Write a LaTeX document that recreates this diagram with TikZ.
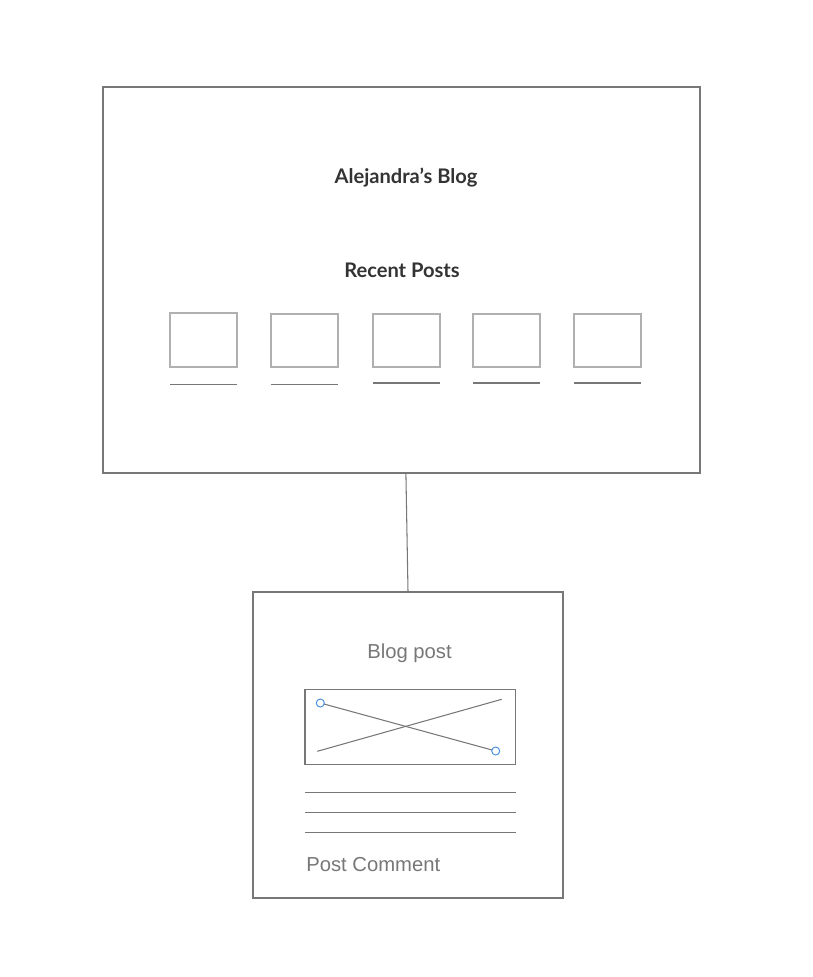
\documentclass[tikz,border=0pt]{standalone}
\usepackage{fontspec}
\usepackage{tikz}
\setmainfont{Liberation Sans}
\newfontfamily\latofont{Lato}
\definecolor{ink}{RGB}{51,51,51}
\definecolor{wire}{RGB}{119,119,119}
\definecolor{thumb}{RGB}{176,176,176}
\definecolor{handle}{RGB}{74,144,226}
\newcommand{\drawwire}{\draw[wire, line width=0.75pt]}
\newcommand{\postthumb}[3]{
    \draw[thumb, line width=1.3pt] (#1,#2) rectangle ++(67,367-#2);
    \drawwire (#1,#3)--++(67,0);
}
\tikzset{
  frame/.style={draw=wire, line width=0.75pt, inner sep=0pt},
  heading/.style={text=ink, font=\latofont\bfseries\fontsize{14.3pt}{17pt}\selectfont},
  caption/.style={text=wire, font=\fontsize{14.4pt}{17pt}\selectfont, inner sep=0pt}
}

\begin{document}
\begin{tikzpicture}[x=0.025cm, y=-0.025cm]
\useasboundingbox (0,0) rectangle (812,977);
\node[frame, minimum width=597*0.025cm, minimum height=386*0.025cm] (home) at (401.5,280) {};
\node[frame, minimum width=310*0.025cm, minimum height=306*0.025cm] (post) at (408,745) {};
\drawwire ([xshift=0.11cm]home.south)--(post.north);
\node[heading] (title) at (406,177.5) {Alejandra’s Blog};
\node[heading] (recent) at (402,270.5) {Recent Posts};
\postthumb{170.3}{312.7}{384.3}
\postthumb{271.3}{314.3}{384.3}
\foreach \x in {372.7,473.3,574.3}{
    \postthumb{\x}{314.3}{383}
}
\node[caption] (blogpost) at (409.5,653.5) {Blog post};
\drawwire (305,689.3) rectangle (515.7,764.3);
\drawwire (320.3,703)--(495.7,751);
\drawwire (317.3,751.3)--(501.7,699.3);
\draw[handle, fill=white, line width=0.7pt] (320.3,703) circle[radius=0.1cm];
\draw[handle, fill=white, line width=0.7pt] (495.7,751) circle[radius=0.1cm];
\foreach \y in {792.3,812.3,832.3}{
    \drawwire (305,\y)--(516,\y);
}
\node[caption, anchor=west] (comment) at (306,865) {Post Comment};
\end{tikzpicture}
\end{document}
